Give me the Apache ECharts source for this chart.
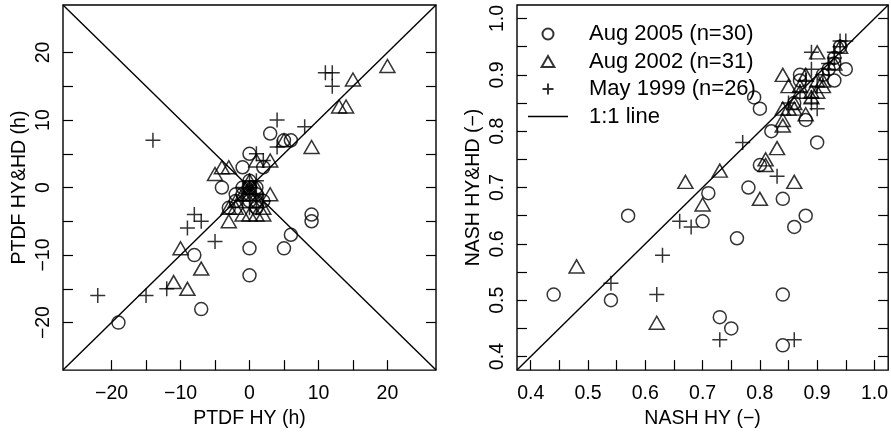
<!DOCTYPE html>
<html><head><meta charset="utf-8">
<script src="https://cdn.jsdelivr.net/npm/echarts@6/dist/echarts.min.js"></script>
<style>html,body{margin:0;padding:0;background:#fff}#c{width:891px;height:434px}</style>
</head><body><div id="c"></div>
<script>
// ---- Left panel: PTDF (h) ----
const ptdfAug2005 = [[-19,-20],[-7,-18],[-8,-10],[0,-13],[0,-9],[5,-9],[6,-7],[9,-4],[9,-5],[3,8],[5,7],[6,7],[0,5],[-1,3],[2,3],[-4,0],[-2,-1],[-1,0],[0,0],[1,-2],[1,-3],[-2,-2],[0,-1],[1,-1],[-1,-1],[0,-2],[2,-2],[1,0],[-3,-3],[0,1]];
const ptdfAug2002 = [[20,18],[15,16],[13,12],[14,12],[9,6],[5,7],[3,4],[1,4],[3,-1],[-3,3],[-4,3],[-5,2],[-3,-5],[-10,-9],[-11,-14],[-9,-15],[-7,-12],[0,1],[0,0],[1,0],[-1,-1],[0,-1],[-3,-3],[-2,-3],[-1,-4],[0,-4],[2,-4],[2,-3],[1,-2],[-2,-2],[1,-4]];
const ptdfMay1999 = [[-22,-16],[-15,-16],[-12,-15],[-9,-6],[-8,-4],[-7,-5],[-5,-8],[-14,7],[4,10],[8,9],[4,6],[11,17],[12,17],[12,15],[1,5],[2,4],[1,1],[0,0],[0,-1],[1,-1],[-1,0],[2,-2],[1,-3],[-1,-2],[0,-3],[0,1]];
const ptdfLim = [-27.04, 27.04];
const ptdfTicks = [-20,-15,-10,-5,0,5,10,15,20];
const ptdfLabels = [-20,-10,0,10,20];

// ---- Right panel: NASH (-) ----
const nashAug2005 = [[0.44,0.51],[0.54,0.50],[0.57,0.65],[0.70,0.64],[0.71,0.69],[0.73,0.47],[0.75,0.45],[0.76,0.61],[0.78,0.70],[0.80,0.74],[0.79,0.86],[0.80,0.84],[0.82,0.80],[0.84,0.68],[0.84,0.51],[0.84,0.42],[0.86,0.63],[0.88,0.65],[0.90,0.78],[0.88,0.82],[0.87,0.90],[0.87,0.89],[0.93,0.89],[0.95,0.91],[0.92,0.91],[0.93,0.93],[0.94,0.95],[0.86,0.85],[0.91,0.90],[0.93,0.92]];
const nashAug2002 = [[0.48,0.56],[0.62,0.46],[0.67,0.71],[0.70,0.67],[0.73,0.73],[0.80,0.68],[0.81,0.75],[0.81,0.74],[0.83,0.77],[0.86,0.71],[0.84,0.90],[0.85,0.88],[0.90,0.94],[0.84,0.84],[0.84,0.82],[0.84,0.81],[0.85,0.84],[0.86,0.84],[0.88,0.83],[0.87,0.87],[0.90,0.87],[0.89,0.86],[0.91,0.89],[0.88,0.90],[0.87,0.88],[0.91,0.88],[0.90,0.89],[0.93,0.92],[0.94,0.95],[0.86,0.85],[0.89,0.87]];
const nashMay1999 = [[0.54,0.53],[0.62,0.51],[0.63,0.58],[0.66,0.64],[0.68,0.63],[0.73,0.43],[0.77,0.78],[0.83,0.72],[0.86,0.43],[0.89,0.94],[0.89,0.91],[0.90,0.84],[0.89,0.86],[0.89,0.85],[0.95,0.96],[0.94,0.95],[0.93,0.93],[0.92,0.91],[0.91,0.90],[0.88,0.89],[0.87,0.87],[0.85,0.85],[0.90,0.88],[0.93,0.94],[0.94,0.96],[0.92,0.92]];
const nashLim = [0.376, 1.024];
const nashTicks = [0.40,0.45,0.50,0.55,0.60,0.65,0.70,0.75,0.80,0.85,0.90,0.95,1.00];
const nashLabels = [0.4,0.5,0.6,0.7,0.8,0.9,1.0];

const seriesNames = ['Aug 2005 (n=30)','Aug 2002 (n=31)','May 1999 (n=26)','1:1 line'];

const FONT = "'Liberation Sans', Arial, Helvetica, sans-serif";
const PLUS = 'path://M0,5L10,5M5,0L5,10';
const TRI = 'path://M5,0L10,8.66L0,8.66Z';
const LINEICON = 'path://M0,0L40,0L40,1.4L0,1.4Z';
const markStyle = {color:'rgba(0,0,0,0)', borderColor:'#000', borderWidth:1.5};
const minus = v => String(v).replace('-', '\u2212');

function xAx(gi, lim, ticks, labels, fmt, name){
  return {type:'value', gridIndex:gi, min:lim[0], max:lim[1], name:name, nameLocation:'middle', nameGap:36,
    nameTextStyle:{fontFamily:FONT, fontSize:19.5, color:'#000'},
    axisLine:{show:false, onZero:false}, splitLine:{show:false},
    axisTick:{show:true, inside:true, length:10, customValues:ticks, lineStyle:{color:'#000', width:1.2}},
    axisLabel:{show:true, customValues:labels, formatter:fmt, margin:14, fontFamily:FONT, fontSize:19.5, color:'#000'}};
}
function yAx(gi, lim, ticks, labels, fmt, name, pos){
  const a = {type:'value', gridIndex:gi, min:lim[0], max:lim[1], position:pos,
    axisLine:{show:false, onZero:false}, splitLine:{show:false},
    axisTick:{show:true, inside:true, length:10, customValues:ticks, lineStyle:{color:'#000', width:1.2}},
    axisLabel:{show:pos==='left', customValues:labels, formatter:fmt, rotate:90, margin:9, fontFamily:FONT, fontSize:19.5, color:'#000'}};
  if (pos==='left'){ a.name=name; a.nameLocation='middle'; a.nameGap=33; a.nameRotate=90;
    a.nameTextStyle={fontFamily:FONT, fontSize:19.5, color:'#000'}; }
  return a;
}
function scatters(xi, yi, d1, d2, d3){
  return [
    {type:'scatter', name:seriesNames[0], xAxisIndex:xi, yAxisIndex:yi, data:d1, symbol:'circle', symbolSize:13, itemStyle:markStyle, silent:true},
    {type:'scatter', name:seriesNames[1], xAxisIndex:xi, yAxisIndex:yi, data:d2, symbol:TRI, symbolSize:[15,13], itemStyle:markStyle, silent:true},
    {type:'scatter', name:seriesNames[2], xAxisIndex:xi, yAxisIndex:yi, data:d3, symbol:PLUS, symbolSize:15, itemStyle:markStyle, silent:true}
  ];
}
function diag(xi, yi, lim, name, flip){
  return {type:'line', name:name, xAxisIndex:xi, yAxisIndex:yi, symbol:'none', silent:true, clip:true,
    data: flip ? [[lim[0],lim[1]],[lim[1],lim[0]]] : [[lim[0],lim[0]],[lim[1],lim[1]]],
    lineStyle:{color:'#000', width:1.4}, itemStyle:{color:'#000'}};
}

const chart = echarts.init(document.getElementById('c'), null, {renderer:'canvas'});
chart.setOption({
  animation:false,
  backgroundColor:'#fff',
  textStyle:{fontFamily:FONT},
  grid:[
    {left:63, top:5, width:373, height:368, show:true, borderColor:'#000', borderWidth:1.4, backgroundColor:'transparent'},
    {left:517, top:5, width:373, height:368, show:true, borderColor:'#000', borderWidth:1.4, backgroundColor:'transparent'}
  ],
  xAxis:[
    xAx(0, ptdfLim, ptdfTicks, ptdfLabels, v=>minus(v), 'PTDF HY (h)'),
    xAx(1, nashLim, nashTicks, nashLabels, v=>Number(v).toFixed(1), 'NASH HY (\u2212)')
  ],
  yAxis:[
    yAx(0, ptdfLim, ptdfTicks, ptdfLabels, v=>minus(v), 'PTDF HY&HD (h)', 'left'),
    yAx(0, ptdfLim, ptdfTicks, ptdfLabels, v=>minus(v), '', 'right'),
    yAx(1, nashLim, nashTicks, nashLabels, v=>Number(v).toFixed(1), 'NASH HY&HD (\u2212)', 'left'),
    yAx(1, nashLim, nashTicks, nashLabels, v=>Number(v).toFixed(1), '', 'right')
  ],
  legend:{
    show:true, orient:'vertical', left:523, top:18, itemWidth:40, itemHeight:11, itemGap:5.5,
    selectedMode:false, symbolKeepAspect:true,
    data:[
      {name:seriesNames[0]},
      {name:seriesNames[1]},
      {name:seriesNames[2]},
      {name:seriesNames[3], icon:LINEICON, itemStyle:{color:'#000', borderWidth:0}}
    ],
    textStyle:{fontFamily:FONT, fontSize:22, color:'#000', lineHeight:22, padding:[0,0,0,16]}
  },
  series:[
    ...scatters(0, 0, ptdfAug2005, ptdfAug2002, ptdfMay1999),
    diag(0, 0, ptdfLim, 'diag1', false),
    diag(0, 0, ptdfLim, 'diag2', true),
    ...scatters(1, 2, nashAug2005, nashAug2002, nashMay1999),
    diag(1, 2, nashLim, seriesNames[3], false)
  ]
});
</script></body></html>
